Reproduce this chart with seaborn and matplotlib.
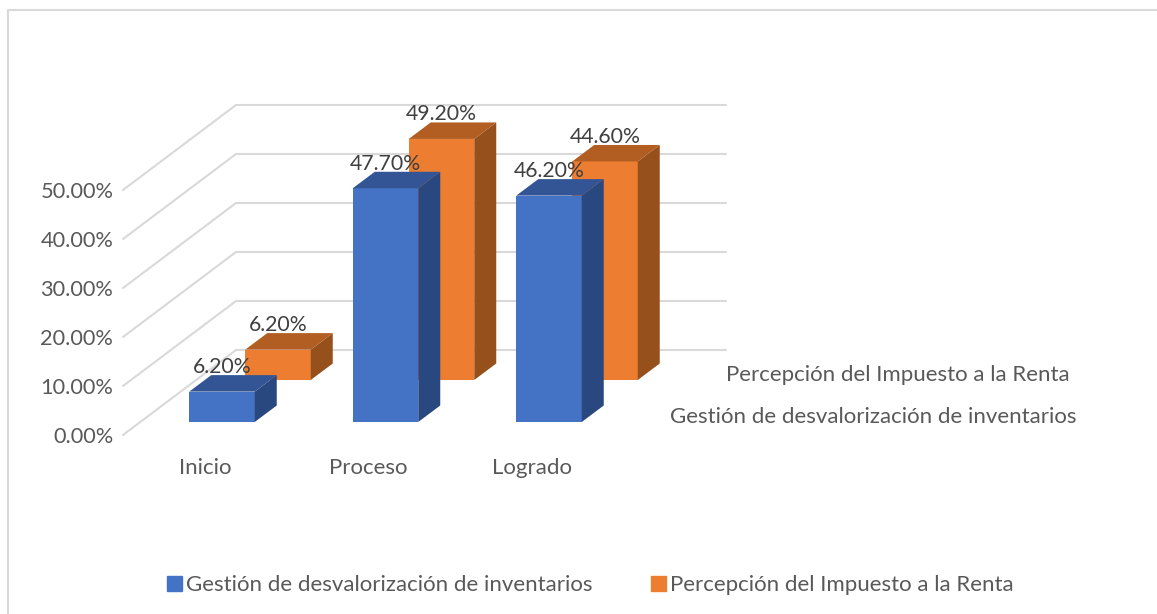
import matplotlib
matplotlib.use('Agg')
import matplotlib.pyplot as plt
import seaborn as sns
import pandas as pd
from matplotlib.patches import Polygon, Patch
from matplotlib.transforms import Affine2D

categorias = ['Inicio', 'Proceso', 'Logrado']
gestion = [6.2, 47.7, 46.2]
percepcion = [6.2, 49.2, 44.6]
ticks_y = [0, 10, 20, 30, 40, 50]
nombre_gestion = 'Gestión de desvalorización de inventarios'
nombre_percepcion = 'Percepción del Impuesto a la Renta'

sns.set_theme(style='white')
plt.rcParams['font.family'] = ['Lato', 'DejaVu Sans']

ANCHO, ALTO = 1157, 614
PX_X = 163.5   # pixeles por categoria
PX_Y = 4.9     # pixeles por punto porcentual
X0, Y0 = 205, 435  # donde caen x=0, y=0
GRIS = '#595959'

fig = plt.figure(figsize=(ANCHO / 100, ALTO / 100), dpi=100)
ax = fig.add_axes([0, 0, 1, 1])


def barras_3d(color_frente, color_lado, color_arriba, valores, dx_px, dy_px):
    df = pd.DataFrame({'cat': categorias, 'valor': valores})
    n = len(ax.patches)
    sns.barplot(data=df, x='cat', y='valor', color=color_frente, saturation=1,
                width=65.5 / PX_X, ax=ax, zorder=3, legend=False, linewidth=0)
    return list(ax.patches[n:]), color_lado, color_arriba, dx_px, dy_px


def caras(barras, color_lado, color_arriba, dx_px, dy_px):
    # el desplazamiento va en pixeles, despues de transData
    desplaza = ax.transData + Affine2D().translate(dx_px, dy_px)
    prof_x, prof_y = 22 / PX_X, 16.5 / PX_Y
    for barra in barras:
        barra.set_transform(desplaza)
        x, w, h = barra.get_x(), barra.get_width(), barra.get_height()
        lado = Polygon([(x + w, 0), (x + w + prof_x, prof_y),
                        (x + w + prof_x, h + prof_y), (x + w, h)],
                       facecolor=color_lado, edgecolor='none', transform=desplaza,
                       zorder=barra.get_zorder())
        arriba = Polygon([(x, h), (x + prof_x, h + prof_y),
                          (x + w + prof_x, h + prof_y), (x + w, h)],
                         facecolor=color_arriba, edgecolor='none', transform=desplaza,
                         zorder=barra.get_zorder())
        ax.add_patch(lado)
        ax.add_patch(arriba)
        ax.annotate(f'{h:.2f}%', xy=(x + w / 2, h), xycoords=desplaza,
                    xytext=(0, 24.5 * 0.72), textcoords='offset points',
                    ha='center', va='center', fontsize=15.3, color='#404040', zorder=6)


# primero la serie de atras
atras = barras_3d('#ED7D31', '#96501C', '#B25D22', percepcion, 73, 55)
frente = barras_3d('#4472C4', '#2A4880', '#335595', gestion, 17, 13)
for b in frente[0]:
    b.set_zorder(4)
caras(*atras)
caras(*frente)

ax.set_xlim(-X0 / PX_X, (ANCHO - X0) / PX_X)
ax.set_ylim(-(ALTO - Y0) / PX_Y, Y0 / PX_Y)

# rejilla en perspectiva: pared lateral y pared de fondo
borde_izq = (123 - X0) / PX_X
fondo_x = (236 - X0) / PX_X
fin_x = (726 - X0) / PX_X
for t in ticks_y:
    ax.plot([borde_izq, fondo_x, fin_x], [t, t + 85 / PX_Y, t + 85 / PX_Y],
            color='#D9D9D9', lw=1.5, zorder=1, solid_joinstyle='miter')

# ejes
ax.spines['left'].set_position(('data', borde_izq))
ax.spines['bottom'].set_position(('data', -(457 - Y0) / PX_Y))
ax.spines['left'].set_visible(False)
ax.spines['bottom'].set_visible(False)
ax.spines['top'].set_visible(False)
ax.spines['right'].set_visible(False)
ax.set_yticks(ticks_y)
ax.set_yticklabels([f'{t:.2f}%' for t in ticks_y])
ax.set_xticks(range(len(categorias)))
ax.set_xticklabels(categorias)
ax.tick_params(axis='y', length=0, pad=7, labelsize=15.7, labelcolor=GRIS)
ax.tick_params(axis='x', length=0, pad=1, labelsize=16, labelcolor=GRIS)
ax.set_xlabel('')
ax.set_ylabel('')

# nombres de serie en el eje de profundidad
ax.text((726 - X0) / PX_X, (Y0 - 375) / PX_Y, nombre_percepcion, fontsize=16,
        color=GRIS, ha='left', va='center')
ax.text((670 - X0) / PX_X, (Y0 - 417) / PX_Y, nombre_gestion, fontsize=16,
        color=GRIS, ha='left', va='center')

# marco del grafico: solo arriba e izquierda
fig.add_artist(plt.Line2D([8.2 / ANCHO, 8.2 / ANCHO, 1],
                          [0, 1 - 10.2 / ALTO, 1 - 10.2 / ALTO],
                          color='#D9D9D9', lw=1.5))

handles = [Patch(color='#4472C4', label=nombre_gestion),
           Patch(color='#ED7D31', label=nombre_percepcion)]
fig.legend(handles=handles, loc='center left', bbox_to_anchor=(167 / ANCHO, 1 - 585 / ALTO),
           ncol=2, frameon=False, fontsize=16, labelcolor=GRIS,
           handlelength=0.675, handleheight=0.675, handletextpad=0.18, columnspacing=2.65,
           borderpad=0, borderaxespad=0)

fig.savefig('out.png', dpi=100, facecolor='white')
